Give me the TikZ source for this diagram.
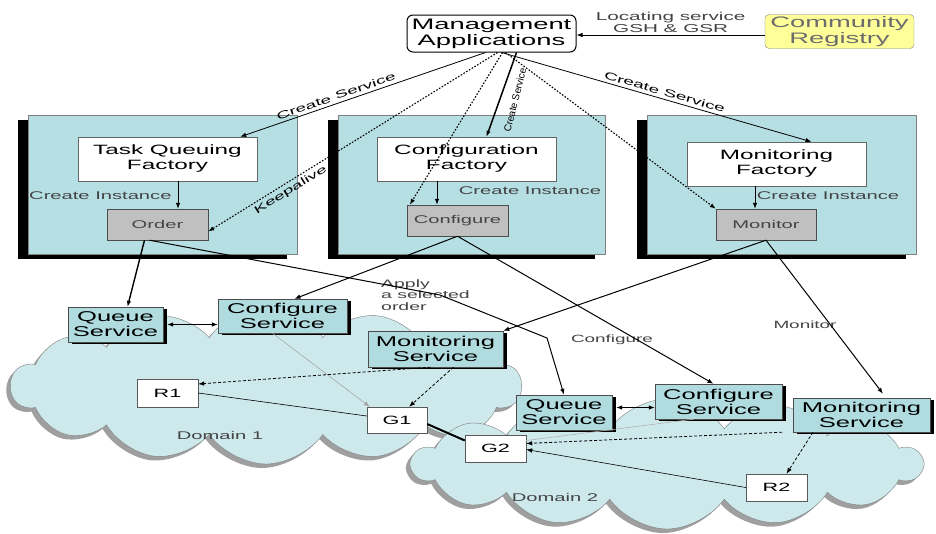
\documentclass[tikz,border=0pt]{standalone}
\usepackage{fontspec}
\setmainfont{Liberation Sans}[FakeStretch=1.8]
\newfontfamily\plainsans{Liberation Sans}
\usetikzlibrary{arrows.meta,shapes.symbols,shadows}
\definecolor{panelc}{HTML}{B5DFE3}
\definecolor{svcc}{HTML}{B0DCE0}
\definecolor{cloudc}{HTML}{CDE9EC}
\definecolor{boxgray}{HTML}{C0C0C0}
\definecolor{crc}{HTML}{FFFF99}
\definecolor{txtgray}{HTML}{444444}
\begin{document}
\begin{tikzpicture}[x=1pt,y=-1pt,
  every node/.style={inner sep=0pt},
  fma/.style={font=\fontsize{15.2}{16}\selectfont},
  fbig/.style={font=\fontsize{13.5}{15}\selectfont},
  fsvc/.style={font=\fontsize{14.2}{15}\selectfont},
  fsm/.style={font=\fontsize{11.2}{12}\selectfont},
  flab/.style={font=\fontsize{10.5}{11}\selectfont},
  fgw/.style={font=\fontsize{12}{13}\selectfont},
  mabox/.style={draw, line width=1pt, rounded corners=6pt, fill=white, align=center, fma, minimum width=169pt, minimum height=37pt},
  crbox/.style={draw=gray, rounded corners=4pt, fill=crc, align=center, fma, text=gray!85!black, minimum width=149pt, minimum height=34pt},
  panelbox/.style={draw=gray, fill=panelc, minimum height=139pt, general shadow={fill=black, shadow xshift=-10pt, shadow yshift=-5pt}},
  factbox/.style={draw=gray!80!black, fill=white, align=center, fbig, minimum width=179pt, minimum height=44pt},
  instbox/.style={draw=gray!60!black, fill=boxgray, fsm, text=txtgray, minimum width=101pt, minimum height=31pt},
  svcbox/.style={draw=black!70, fill=svcc, align=center, fsvc, general shadow={fill=black, shadow xshift=4pt, shadow yshift=-2pt}},
  wbox/.style={draw=gray!70!black, fill=white, fgw, minimum width=61pt, minimum height=27pt},
  cloudbox/.style={cloud, cloud puffs=14, cloud puff arc=110, draw=gray, fill=cloudc, general shadow={fill=gray!75, shadow xshift=-4pt, shadow yshift=-4pt}},
  arr/.style={-{Latex[length=6pt,width=4.5pt]}, line width=0.8pt},
  dotarr/.style={arr, dash pattern=on 1.6pt off 1.6pt, line width=1.1pt},
  dasharr/.style={arr, dash pattern=on 3pt off 2pt, line width=0.8pt},
  lab/.style={flab, text=black}
]
\useasboundingbox[fill=white] (0,0) rectangle (936,533);

% clouds
\node[cloudbox, minimum width=510pt, minimum height=156pt] (d1) at (266,386) {};
\node[cloudbox, minimum width=510pt, minimum height=130pt] (d2) at (667,464) {};
\node[fsm, text=txtgray] (d1lab) at (220,435) {Domain 1};
\node[fsm, text=txtgray] (d2lab) at (555,497) {Domain 2};

% top
\node[mabox] (ma) at (491.5,33.5) {Management\\Applications};
\node[crbox] (cr) at (839.5,31.5) {Community\\Registry};

% panels
\node[panelbox, minimum width=269pt] (p1) at (162.5,184.5) {};
\node[panelbox, minimum width=267pt] (p2) at (471.5,184.5) {};
\node[panelbox, minimum width=269pt] (p3) at (781.5,184.5) {};

\node[factbox] (tqf) at (167.5,159) {Task Queuing\\Factory};
\node[instbox] (order) at (157.5,224.5) {Order};
\node[factbox] (cf) at (466.5,159) {Configuration\\Factory};
\node[instbox] (configure) at (457.5,220.5) {Configure};
\node[factbox] (mf) at (776.5,164) {Monitoring\\Factory};
\node[instbox, minimum width=100pt] (monitor) at (766,224.5) {Monitor};

\node[fsm, text=txtgray, anchor=west] (ci1) at (29,196) {Create Instance};
\node[fsm, text=txtgray] (ci2) at (530,191) {Create Instance};
\node[fsm, text=txtgray] (ci3) at (828,196) {Create Instance};

% services
\node[svcbox, minimum width=95pt, minimum height=35pt] (qs1) at (115.5,324.5) {Queue\\Service};
\node[svcbox, minimum width=129pt, minimum height=34pt] (cs1) at (282.5,316) {Configure\\Service};
\node[svcbox, minimum width=135pt, minimum height=36pt] (ms1) at (435.5,349) {Monitoring\\Service};
\node[svcbox, minimum width=96pt, minimum height=35pt] (qs2) at (564,412.5) {Queue\\Service};
\node[svcbox, minimum width=127pt, minimum height=35pt] (cs2) at (718.5,401.5) {Configure\\Service};
\node[svcbox, minimum width=137pt, minimum height=34pt] (ms2) at (861.5,415) {Monitoring\\Service};

\node[wbox, minimum height=28pt] (r1) at (167.5,393) {R1};
\node[wbox, minimum width=60pt, minimum height=26pt] (g1) at (397,420) {G1};
\node[wbox] (g2) at (495.5,448.5) {G2};
\node[wbox] (r2) at (776.5,487.5) {R2};

% free labels
\node[text=txtgray, align=left, anchor=north west, font=\fontsize{10.8}{11.5}\selectfont] (apply) at (381,279) {Apply\\a selected\\order};
\node[flab, text=txtgray] (cfglab) at (612,340) {Configure};
\node[flab, text=txtgray] (monlab) at (805,325) {Monitor};
\node[rotate=76, font=\plainsans\fontsize{10}{11}\selectfont] (cslab2) at (515,100) {Create Service};

% connectors top
\draw[arr] ([yshift=-3.5pt]cr.west) -- ([yshift=-1.5pt]ma.east)
  node[midway, above=2pt, align=center, text=txtgray, font=\fontsize{11.5}{12}\selectfont] (loclab) {Locating service\\GSH \& GSR};
\draw[arr] ([xshift=-6pt]ma.south) -- node[lab, sloped, above=3pt, pos=0.6] (cslab1) {Create Service} ([xshift=-17pt]tqf.north east);
\draw[dotarr] ([xshift=6pt]ma.south) -- node[lab, sloped, below=3pt, pos=0.73] (kalab) {Keepalive} ([yshift=-7pt]order.east);
\draw[dotarr] ([xshift=11pt]ma.south) -- ([xshift=3pt]configure.north west);
\draw[arr, line width=1.5pt] ([xshift=25pt]ma.south) -- ([xshift=20pt]cf.north);
\draw[dotarr] ([xshift=14pt]ma.south) -- (monitor.north west);
\draw[arr] ([xshift=10pt]ma.south) -- node[lab, sloped, above=3pt, pos=0.52] (cslab3) {Create Service} ([xshift=35pt]mf.north);

% inside panels
\draw[arr] ([xshift=10.5pt]tqf.south) -- ([xshift=10.5pt]tqf.south |- order.north);
\draw[arr] ([xshift=-29.5pt]cf.south) -- ([xshift=-29.5pt]cf.south |- configure.north);
\draw[arr] ([xshift=-21.5pt]mf.south) -- ([xshift=-21.5pt]mf.south |- monitor.north);

% panels to services
\draw[arr, line width=1.4pt] ([xshift=-13pt]order.south) -- ([xshift=12pt]qs1.north);
\draw[arr, line width=1pt] ([xshift=-8pt]order.south) -- (440,295) -- (547,338) -- (qs2.north);
\draw[arr, line width=1pt] (configure.south) -- ([xshift=12pt]cs1.north);
\draw[arr, line width=1pt] (configure.south) -- ([xshift=-5pt]cs2.north);
\draw[arr, line width=1pt] (monitor.south) -- (ms1.north east);
\draw[arr, line width=1pt] (monitor.south) -- ([xshift=21.5pt,yshift=4pt]ms2.north);

% domain 1
\draw[{Latex[length=6pt,width=4.5pt]}-{Latex[length=6pt,width=4.5pt]}, line width=0.8pt] ([xshift=4pt]qs1.east) -- (qs1.east -| cs1.west);
\draw[arr, draw=gray!70, line width=0.6pt] ([xshift=-10pt]cs1.south) -- ([xshift=3pt]g1.north west);
\draw[dasharr] ([xshift=-5pt]ms1.south) -- ([yshift=9pt]r1.east);
\draw[dasharr] ([xshift=18pt]ms1.south) -- ([xshift=12pt]g1.north);
\draw[line width=0.6pt] (r1.east) -- ([yshift=4pt]g1.west);
\draw[line width=2pt] ([yshift=-4pt]g1.east) -- ([yshift=8pt]g2.west);

% domain 2
\draw[{Latex[length=6pt,width=4.5pt]}-{Latex[length=6pt,width=4.5pt]}, line width=0.8pt] ([xshift=4pt,yshift=5pt]qs2.east) -- ([yshift=5pt]qs2.east -| cs2.west);
\draw[draw=gray!60, line width=0.6pt] ([xshift=-25pt]cs2.south) -- ([yshift=8pt]g2.east);
\draw[dasharr] ([xshift=-79.5pt]ms2.south) -- ([yshift=5pt]g2.east);
\draw[dasharr] ([xshift=-48.5pt]ms2.south) -- ([xshift=10pt]r2.north);
\draw[arr, line width=0.6pt] (r2.west) -- ([yshift=-1pt]g2.east);
\end{tikzpicture}
\end{document}
